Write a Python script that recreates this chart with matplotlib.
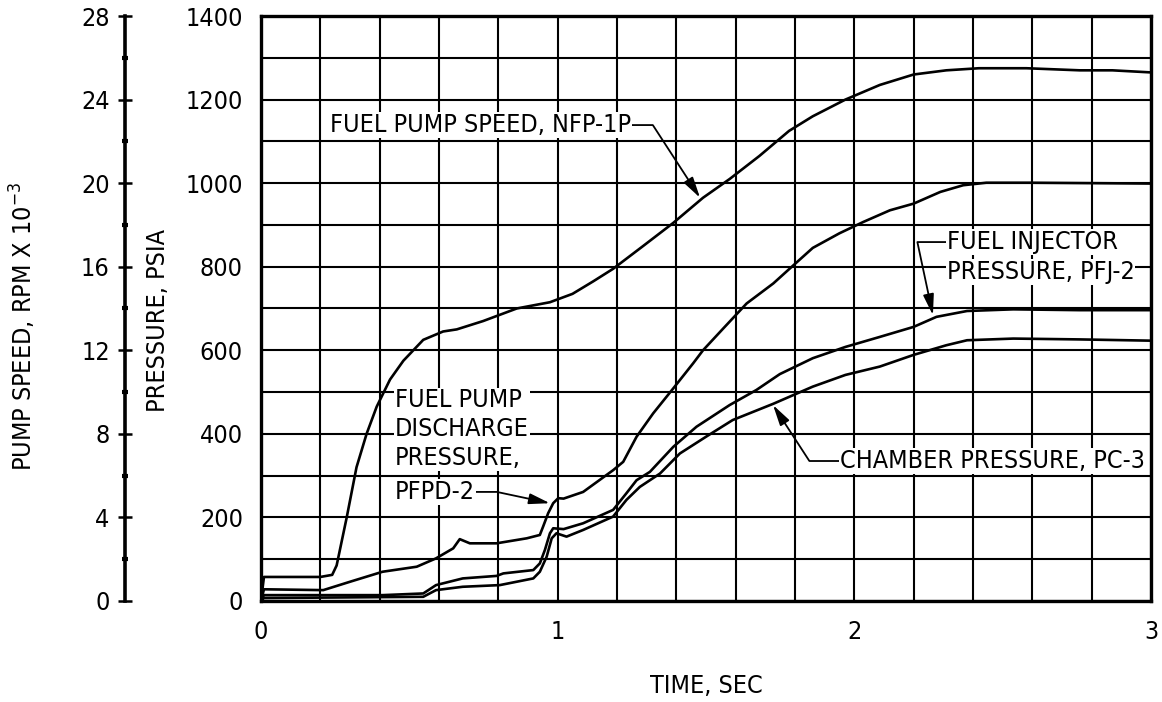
import matplotlib
matplotlib.use("Agg")
import matplotlib.pyplot as plt
from matplotlib import font_manager
from matplotlib.ticker import MultipleLocator

# condensed lettering if the system has it, otherwise Roboto (narrower than DejaVu)
_cond = font_manager.FontProperties(family='DejaVu Sans', stretch='condensed')
if 'Condensed' in font_manager.findfont(_cond, fallback_to_default=False):
    FONT = dict(family='DejaVu Sans', stretch='condensed')
else:
    FONT = dict(family='Roboto')
plt.rcParams['font.family'] = FONT['family']
if 'stretch' in FONT:
    plt.rcParams['font.stretch'] = FONT['stretch']

# ─── data ────────────────────────────────────────────────────────────────────
t_speed = [0.0, 0.01, 0.2, 0.24, 0.255, 0.289, 0.322, 0.356, 0.39, 0.435, 0.48,
           0.547, 0.614, 0.66, 0.749, 0.862, 0.974, 1.05, 1.12, 1.187, 1.289,
           1.39, 1.49, 1.58, 1.68, 1.78, 1.86, 1.97, 2.086, 2.2, 2.31, 2.42,
           2.58, 2.76, 2.87, 3.0]
speed_krpm = [0.0, 1.15, 1.15, 1.25, 1.7, 4.0, 6.4, 8.0, 9.3, 10.6, 11.5,
              12.5, 12.9, 13.0, 13.4, 14.0, 14.3, 14.7, 15.3, 15.9, 17.0,
              18.1, 19.3, 20.2, 21.3, 22.5, 23.2, 24.0, 24.7, 25.2, 25.4, 25.5,
              25.5, 25.4, 25.4, 25.3]

t_pfpd = [0.0, 0.01, 0.21, 0.3, 0.41, 0.525, 0.59, 0.648, 0.67, 0.704, 0.794,
          0.896, 0.94, 0.951, 0.968, 0.985, 1.002, 1.02, 1.086, 1.187, 1.221,
          1.266, 1.322, 1.39, 1.457, 1.49, 1.558, 1.637, 1.727, 1.78, 1.86,
          1.95, 2.03, 2.12, 2.2, 2.29, 2.367, 2.445, 2.59, 2.8, 3.0]
pfpd = [0, 28, 26, 46, 70, 82, 102, 126, 148, 138, 138,
        150, 158, 178, 210, 234, 246, 245, 261, 313, 333,
        393, 449, 509, 569, 600, 652, 712, 760, 794, 845,
        880, 907, 935, 951, 979, 995, 1001, 1001, 1000, 999]

t_pfj = [0.0, 0.01, 0.41, 0.547, 0.59, 0.68, 0.794, 0.817, 0.918, 0.94, 0.957,
         0.974, 0.985, 1.02, 1.086, 1.187, 1.232, 1.266, 1.311, 1.39, 1.468,
         1.58, 1.67, 1.749, 1.86, 1.97, 2.086, 2.2, 2.277, 2.38, 2.536, 2.76, 3.0]
pfj = [0, 14, 14, 18, 38, 54, 60, 66, 74, 90, 122,
       162, 174, 172, 186, 218, 258, 289, 309, 369, 417,
       469, 505, 543, 581, 608, 632, 656, 680, 694, 698, 696, 696]

t_pc = [0.0, 0.01, 0.547, 0.59, 0.68, 0.805, 0.918, 0.94, 0.963, 0.98, 0.996,
        1.03, 1.086, 1.187, 1.232, 1.277, 1.345, 1.412, 1.5, 1.59, 1.727,
        1.86, 1.97, 2.086, 2.2, 2.31, 2.38, 2.536, 2.76, 3.0]
pc = [0, 7, 10, 26, 34, 38, 54, 70, 106, 150, 162,
      154, 170, 202, 242, 273, 305, 353, 393, 433, 472,
      513, 541, 561, 589, 612, 624, 628, 626, 623]

time_ticks = [0, 1, 2, 3]
pressure_ticks = list(range(0, 1401, 200))
speed_ticks = list(range(0, 29, 4))

FS = 18
LW_CURVE = 1.9
BOX = dict(facecolor='white', edgecolor='none', pad=0.5)


def main():
    fig = plt.figure(figsize=(11.62, 7.02), dpi=100)
    ax = fig.add_axes([0.2246, 0.1439, 0.7659, 0.8333])

    ax.set_xlim(0, 3)
    ax.set_ylim(0, 1400)
    ax.set_xticks(time_ticks)
    ax.xaxis.set_minor_locator(MultipleLocator(0.2))
    ax.set_yticks(pressure_ticks)
    ax.yaxis.set_minor_locator(MultipleLocator(100))
    ax.grid(True, which='both', color='black', linewidth=1.5)
    ax.tick_params(which='both', length=0, labelsize=FS)
    ax.tick_params(axis='x', pad=14)
    ax.tick_params(axis='y', pad=13)
    for sp in ax.spines.values():
        sp.set_linewidth(2.4)

    ax.set_xlabel('TIME, SEC', fontsize=FS)
    ax.xaxis.set_label_coords(0.5, -0.125)
    ax.set_ylabel('PRESSURE, PSIA', fontsize=FS)
    ax.yaxis.set_label_coords(-0.102, 0.48)

    ax.plot(t_pfpd, pfpd, color='black', lw=LW_CURVE, zorder=3)
    ax.plot(t_pfj, pfj, color='black', lw=LW_CURVE, zorder=3)
    ax.plot(t_pc, pc, color='black', lw=LW_CURVE, zorder=3)

    # pump speed scale on its own spine, left of the pressure scale
    ax2 = ax.twinx()
    ax2.set_ylim(0, 28)
    ax2.spines['left'].set_position(('axes', -0.1528))
    ax2.spines['left'].set_visible(True)
    ax2.spines['left'].set_linewidth(2.6)
    for side in ('right', 'top', 'bottom'):
        ax2.spines[side].set_visible(False)
    ax2.yaxis.set_ticks_position('left')
    ax2.yaxis.set_label_position('left')
    ax2.set_yticks(speed_ticks)
    ax2.yaxis.set_minor_locator(MultipleLocator(2))
    ax2.tick_params(which='major', direction='inout', length=10, width=1.8,
                    labelsize=FS, pad=6)
    ax2.tick_params(which='minor', direction='inout', length=4, width=3)
    ax2.set_ylabel('PUMP SPEED, RPM X 10$^{-3}$', fontsize=FS)
    ax2.yaxis.set_label_coords(-0.251, 0.47)

    ax2.plot(t_speed, speed_krpm, color='black', lw=LW_CURVE, zorder=3)

    arrow = dict(arrowstyle='-|>,head_length=0.7,head_width=0.18',
                 color='black', lw=1.3, shrinkA=0, shrinkB=0)

    ax2.annotate('FUEL PUMP SPEED, NFP-1P', xy=(1.48, 19.3),
                 xytext=(0.233, 1139), textcoords=ax.transData,
                 ha='left', va='center', fontsize=FS, bbox=BOX, zorder=5,
                 arrowprops=dict(arrow, relpos=(1, 0.5),
                                 connectionstyle='angle,angleA=0,angleB=-57,rad=0'))

    ax2.text(0.452, 411, 'FUEL PUMP\nDISCHARGE\nPRESSURE,', transform=ax.transData,
             ha='left', va='center', fontsize=FS, linespacing=1.25,
             bbox=BOX, zorder=5)
    ax2.annotate('PFPD-2', xy=(0.974, 234), xycoords=ax.transData,
                 xytext=(0.452, 261), textcoords=ax.transData,
                 ha='left', va='center', fontsize=FS, bbox=BOX, zorder=5,
                 arrowprops=dict(arrow, relpos=(1, 0.5),
                                 connectionstyle='angle,angleA=0,angleB=-12,rad=0'))

    ax2.annotate('FUEL INJECTOR', xy=(2.265, 684), xycoords=ax.transData,
                 xytext=(2.312, 859), textcoords=ax.transData,
                 ha='left', va='center', fontsize=FS, bbox=BOX, zorder=5,
                 arrowprops=dict(arrow, relpos=(0, 0.5),
                                 connectionstyle='angle,angleA=180,angleB=-78,rad=0'))
    ax2.text(2.312, 787, 'PRESSURE, PFJ-2', transform=ax.transData,
             ha='left', va='center', fontsize=FS, bbox=BOX, zorder=5)

    ax2.annotate('CHAMBER PRESSURE, PC-3', xy=(1.726, 469), xycoords=ax.transData,
                 xytext=(1.951, 335), textcoords=ax.transData,
                 ha='left', va='center', fontsize=FS, bbox=BOX, zorder=5,
                 arrowprops=dict(arrow, relpos=(0, 0.5),
                                 connectionstyle='angle,angleA=180,angleB=123,rad=0'))

    fig.savefig('out.png', dpi=100)


if __name__ == '__main__':
    main()
